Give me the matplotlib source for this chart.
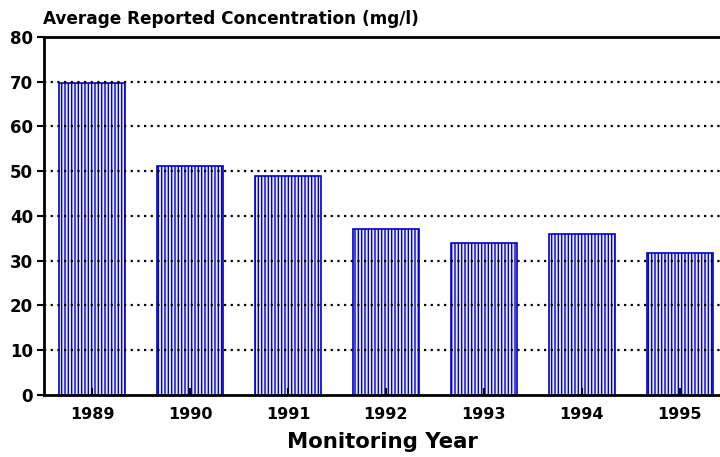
"""Bar chart of average reported concentration by monitoring year."""

import matplotlib
import matplotlib.pyplot as plt

matplotlib.use("Agg")

years = ["1989", "1990", "1991", "1992", "1993", "1994", "1995"]
concentration = [69.8, 51.2, 48.9, 37.1, 34.0, 36.0, 31.8]
y_ticks = [0, 10, 20, 30, 40, 50, 60, 70, 80]

plt.rcParams["font.family"] = ["DejaVu Sans"]
plt.rcParams["font.weight"] = "bold"
plt.rcParams["hatch.linewidth"] = 1.0
plt.rcParams["hatch.color"] = "#0000c8"

fig = plt.figure(figsize=(7.2, 4.57), dpi=100)
ax = fig.add_axes([0.0611, 0.1357, 0.9389, 0.7834])

x = list(range(len(years)))
ax.bar(
    x,
    concentration,
    width=0.67,
    facecolor="#e8e8ff",
    edgecolor="#0000c8",
    linewidth=1.2,
    hatch="|||||",
    zorder=1,
)

ax.set_ylim(0, 80)
ax.set_xlim(-0.49, 6.41)
ax.set_yticks(y_ticks)
ax.set_xticks(x)
ax.set_xticklabels(years)
ax.tick_params(axis="y", direction="out", length=5, width=1.5, labelsize=12, pad=3)
ax.tick_params(axis="x", direction="in", length=5, width=1.5, labelsize=11.5, pad=9)

for y in y_ticks[1:-1]:
    ax.axhline(y, color="black", linestyle=(0, (1, 2)), linewidth=1.6, zorder=3)

for side in ["left", "top", "bottom"]:
    ax.spines[side].set_linewidth(2)
ax.spines["right"].set_visible(False)

ax.set_xlabel("Monitoring Year", fontsize=15.3, fontweight="bold", labelpad=7)
fig.text(0.06, 0.947, "Average Reported Concentration (mg/l)",
         fontsize=12.2, fontweight="bold", ha="left", va="baseline")

fig.savefig("out.png", dpi=100)
